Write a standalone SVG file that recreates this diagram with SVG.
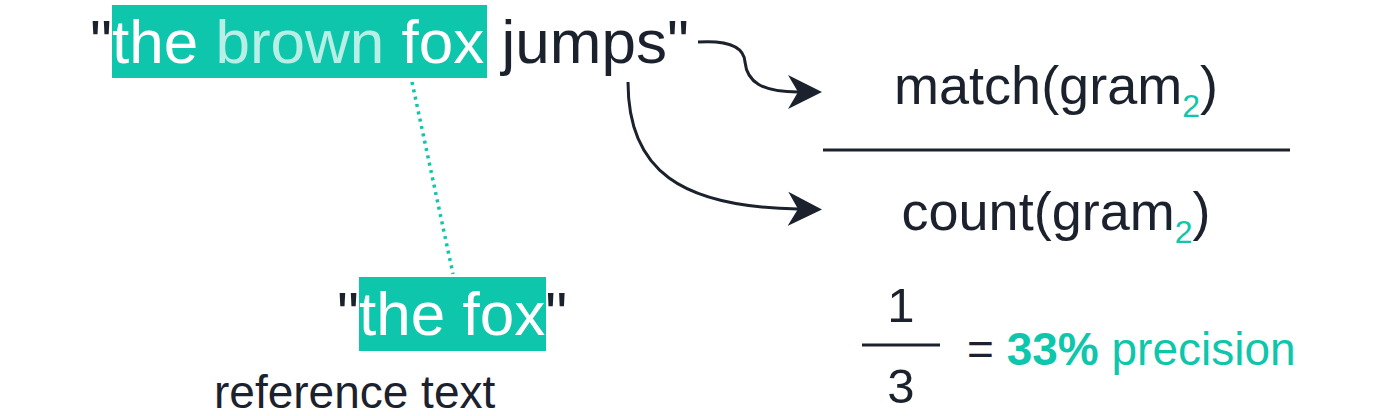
<svg xmlns="http://www.w3.org/2000/svg" width="1400" height="416" viewBox="0 0 1400 416">
  <style>
    text { font-family: "Liberation Sans", Arial, sans-serif; fill: #1c222d; }
    .hl { fill: #0ec6ab; }
    .teal { fill: #0ec6ab; }
    .white { fill: #ffffff; }
    .pale { fill: #ffffff; fill-opacity: 0.7; }
    .conn { fill: none; stroke: #1c222d; stroke-width: 3; }
    .bar { stroke: #1c222d; stroke-width: 3; }
  </style>
  <defs>
    <marker id="arrow" markerUnits="userSpaceOnUse" markerWidth="36" markerHeight="36" refX="10" refY="17" orient="auto" viewBox="0 0 36 34">
      <path d="M0,0 L34,17 L0,34 L10,17 Z" fill="#1c222d"/>
    </marker>
  </defs>

  <g id="candidate">
    <rect class="hl" x="112" y="5" width="375" height="73"/>
    <text x="90" y="63" font-size="62">"<tspan class="white">the</tspan> <tspan class="pale">brown</tspan> <tspan class="white">fox</tspan> jumps"</text>
  </g>

  <g id="reference">
    <rect class="hl" x="359" y="277" width="187" height="74"/>
    <text x="337" y="335" font-size="62">"<tspan class="white">the fox</tspan>"</text>
    <text x="214" y="408" font-size="46">reference text</text>
  </g>

  <g id="fraction">
    <text x="1056" y="104" font-size="54" text-anchor="middle">match(gram<tspan class="teal" font-size="32" dy="13">2</tspan><tspan dy="-13">)</tspan></text>
    <line class="bar" x1="823" y1="150" x2="1290" y2="150"/>
    <text x="1056" y="230" font-size="54" text-anchor="middle">count(gram<tspan class="teal" font-size="32" dy="13">2</tspan><tspan dy="-13">)</tspan></text>
  </g>

  <g id="result">
    <text x="901" y="322" font-size="49" text-anchor="middle">1</text>
    <line class="bar" x1="862" y1="345" x2="940" y2="345"/>
    <text x="901" y="403" font-size="49" text-anchor="middle">3</text>
    <text x="967" y="365" font-size="46">= <tspan class="teal" font-weight="bold">33%</tspan> <tspan class="teal">precision</tspan></text>
  </g>

  <g id="connectors">
    <line x1="412" y1="82" x2="453" y2="274" stroke="#0ec6ab" stroke-width="3.5" stroke-dasharray="3 4.5"/>
    <path class="conn" d="M698,42 C730,40 744,47 745,62 C747,82 762,92 798,92" marker-end="url(#arrow)"/>
    <path class="conn" d="M628,82 C628,170 680,207 798,209" marker-end="url(#arrow)"/>
  </g>
</svg>
